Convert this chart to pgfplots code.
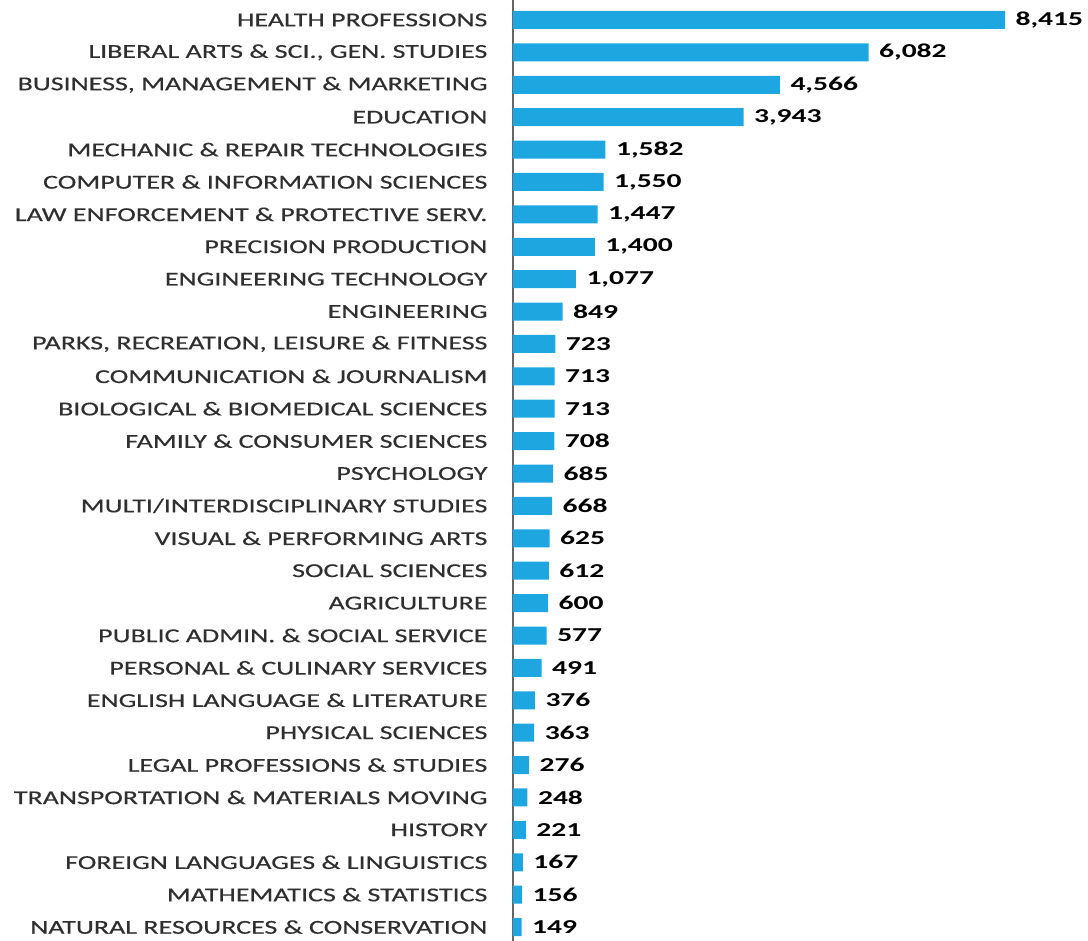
\documentclass[border=0pt]{standalone}
\usepackage{pgfplots}
\pgfplotsset{compat=1.18}
\usepackage{fontspec}
\setmainfont{Carlito}
\newfontfamily\lblfont[FakeStretch=1.42,FakeBold=0.4]{Carlito}
\newfontfamily\valfont[FakeStretch=1.5]{Carlito}
\definecolor{barblue}{HTML}{1DA6E0}
\definecolor{lbl}{HTML}{2F2F2F}
\begin{document}
\begin{tikzpicture}[x=1pt,y=1pt]
\begin{axis}[
  at={(513pt,0pt)}, anchor=south west,
  scale only axis, width=575pt, height=941pt,
  xmin=0, xmax=9834,
  ymin=-0.617, ymax=28.43, y dir=reverse,
  axis x line=none,
  axis y line*=left,
  y axis line style={-, draw=gray!80!black, line width=2.5pt},
  major tick length=0pt,
  ytick={0,...,28},
  yticklabels={
    HEALTH PROFESSIONS,
    {LIBERAL ARTS \& SCI., GEN. STUDIES},
    {BUSINESS, MANAGEMENT \& MARKETING},
    EDUCATION,
    MECHANIC \& REPAIR TECHNOLOGIES,
    COMPUTER \& INFORMATION SCIENCES,
    LAW ENFORCEMENT \& PROTECTIVE SERV.,
    PRECISION PRODUCTION,
    ENGINEERING TECHNOLOGY,
    ENGINEERING,
    {PARKS, RECREATION, LEISURE \& FITNESS},
    COMMUNICATION \& JOURNALISM,
    BIOLOGICAL \& BIOMEDICAL SCIENCES,
    FAMILY \& CONSUMER SCIENCES,
    PSYCHOLOGY,
    MULTI/INTERDISCIPLINARY STUDIES,
    VISUAL \& PERFORMING ARTS,
    SOCIAL SCIENCES,
    AGRICULTURE,
    PUBLIC ADMIN. \& SOCIAL SERVICE,
    PERSONAL \& CULINARY SERVICES,
    ENGLISH LANGUAGE \& LITERATURE,
    PHYSICAL SCIENCES,
    LEGAL PROFESSIONS \& STUDIES,
    TRANSPORTATION \& MATERIALS MOVING,
    HISTORY,
    FOREIGN LANGUAGES \& LINGUISTICS,
    MATHEMATICS \& STATISTICS,
    NATURAL RESOURCES \& CONSERVATION},
  yticklabel style={font=\lblfont\fontsize{19.7}{22}\selectfont, text=lbl, anchor=east, xshift=-22pt},
  /pgf/number format/assume math mode=true,
  /pgf/number format/1000 sep={,},
  xbar, bar width=18pt,
  point meta=x,
  nodes near coords,
  nodes near coords align={horizontal},
  every node near coord/.append style={font=\valfont\fontsize{19.7}{22}\selectfont\bfseries, text=black, anchor=west, xshift=7pt},
  clip=false,
]
\addplot[draw=none, fill=barblue] coordinates {
(8415,0) (6082,1) (4566,2) (3943,3) (1582,4) (1550,5) (1447,6) (1400,7)
(1077,8) (849,9) (723,10) (713,11) (713,12) (708,13) (685,14) (668,15)
(625,16) (612,17) (600,18) (577,19) (491,20) (376,21) (363,22) (276,23)
(248,24) (221,25) (167,26) (156,27) (149,28)};
\end{axis}
\pgfresetboundingbox
\path (0,0) rectangle (1088pt,941pt);
\end{tikzpicture}
\end{document}
